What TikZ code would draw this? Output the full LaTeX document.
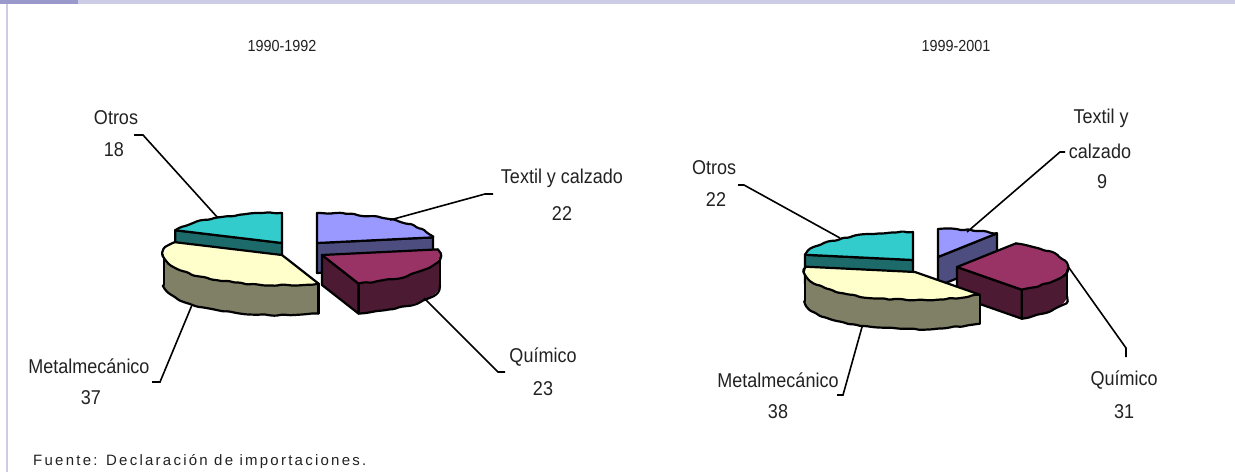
\documentclass[tikz,border=0pt]{standalone}
\usepackage{fontspec}
\setmainfont{Liberation Sans}[FakeStretch=0.9]
\newfontfamily\fuentefont{Liberation Sans}[LetterSpace=15]
\usetikzlibrary{calc,decorations.pathmorphing}
\definecolor{cyantop}{HTML}{33CCCC}
\definecolor{cyanside}{HTML}{1C6A6A}
\definecolor{yeltop}{HTML}{FFFFCC}
\definecolor{yelside}{HTML}{808066}
\definecolor{lavtop}{HTML}{9999FF}
\definecolor{lavside}{HTML}{4D4D80}
\definecolor{martop}{HTML}{993366}
\definecolor{marside}{HTML}{4D1A33}
\definecolor{barlight}{HTML}{CCCCE6}
\definecolor{bardark}{HTML}{9999CC}
\definecolor{txt}{HTML}{222222}
\tikzset{
  piece/.style={draw=black,line width=2.2pt,line join=round,line cap=round},
  wavy/.style={decorate,decoration={random steps,segment length=6pt,amplitude=0.9pt},rounded corners=1.5pt},
  lead/.style={draw=black,line width=1.6pt},
  lbl/.style={inner sep=0pt,text=txt,font=\fontsize{20}{22}\selectfont},
  ttl/.style={inner sep=0pt,text=txt,font=\fontsize{16}{18}\selectfont},
}
\def\RX{118}\def\RY{30}\def\HH{30}
\newcommand\slicetop[4]{%
  \fill[#4] (#1) -- ($(#1)+({\RX*cos(#2)},{\RY*sin(#2)})$)
    arc[start angle=#2,end angle=#3,x radius=\RX,y radius=\RY] -- cycle;
  \draw[piece] ($(#1)+({\RX*cos(#3)},{\RY*sin(#3)})$) -- (#1)
    -- ($(#1)+({\RX*cos(#2)},{\RY*sin(#2)})$);
  \draw[piece,wavy] ($(#1)+({\RX*cos(#2)},{\RY*sin(#2)})$)
    arc[start angle=#2,end angle=#3,x radius=\RX,y radius=\RY];}
\newcommand\rimface[4]{%
  \fill[#4] ($(#1)+({\RX*cos(#2)},{\RY*sin(#2)})$)
    arc[start angle=#2,end angle=#3,x radius=\RX,y radius=\RY] -- ++(0,\HH)
    arc[start angle=#3,end angle=#2,x radius=\RX,y radius=\RY] -- cycle;
  \draw[piece] ($(#1)+({\RX*cos(#2)},{\RY*sin(#2)})$) -- ++(0,\HH);
  \draw[piece] ($(#1)+({\RX*cos(#3)},{\RY*sin(#3)})$) -- ++(0,\HH);
  \draw[piece,wavy] ($(#1)+({\RX*cos(#2)},{\RY*sin(#2)+\HH})$)
    arc[start angle=#2,end angle=#3,x radius=\RX,y radius=\RY];}
\newcommand\radface[3]{%
  \draw[piece,fill=#3] (#1) -- ($(#1)+({\RX*cos(#2)},{\RY*sin(#2)})$) -- ++(0,\HH)
    -- ($(#1)+(0,\HH)$) -- cycle;}
\begin{document}
\begin{tikzpicture}[x=1pt,y=-1pt]
\pgfmathsetseed{7}
\useasboundingbox (0,0) rectangle (1235,472);
\fill[white] (0,0) rectangle (1235,472);
% frame
\fill[barlight] (0,0) rectangle (1235,4);
\fill[bardark] (0,0) rectangle (78,4);
\draw[barlight,line width=2pt] (7,4) -- (7,472);
% titles
\node[ttl] (t1) at (282,46) {1990-1992};
\node[ttl] (t2) at (956,46) {1999-2001};
% ---------- left pie ----------
\coordinate (LO) at (282,243);
\coordinate (LT) at (317,243);
\coordinate (LQ) at (322,255);
\coordinate (LM) at (282,255);
\radface{LO}{205.2}{cyanside}
\slicetop{LO}{205.2}{270}{cyantop}
\radface{LT}{349.2}{lavside}
\slicetop{LT}{270}{349.2}{lavtop}
\rimface{LQ}{360}{432}{marside}
\radface{LQ}{432}{marside}
\slicetop{LQ}{349.2}{432}{martop}
\rimface{LM}{72}{180}{yelside}
\slicetop{LM}{72}{205.2}{yeltop}
% left labels
\node[lbl] (lo1) at (116,118) {Otros};
\node[lbl] (lo2) at (114,150) {18};
\node[lbl] (lt1) at (562,178) {Textil y calzado};
\node[lbl] (lt2) at (562,214) {22};
\node[lbl] (lq1) at (543,357) {Químico};
\node[lbl] (lq2) at (543,389) {23};
\node[lbl] (lm1) at (89,366) {Metalmecánico};
\node[lbl] (lm2) at (91,398) {37};
\coordinate (a1) at (134,135); \coordinate (a2) at (143,135); \coordinate (a3) at (218,218);
\coordinate (b1) at (493,194); \coordinate (b2) at (485,194); \coordinate (b3) at (390,220);
\coordinate (c1) at (424,298); \coordinate (c2) at (498,372); \coordinate (c3) at (505,372);
\coordinate (d1) at (192,305); \coordinate (d2) at (160,382); \coordinate (d3) at (152,382);
\draw[lead] (a1) -- (a2) -- (a3);
\draw[lead] (b1) -- (b2) -- (b3);
\draw[lead] (c1) -- (c2) -- (c3);
\draw[lead] (d1) -- (d2) -- (d3);
% ---------- right pie ----------
\def\RX{110}\def\RY{28}\def\HH{29}
\coordinate (RO) at (913,260);
\coordinate (RT) at (938,257);
\coordinate (RQ) at (957,267);
\coordinate (RM) at (915,272);
\radface{RO}{190.8}{cyanside}
\slicetop{RO}{190.8}{270}{cyantop}
\radface{RT}{302.4}{lavside}
\slicetop{RT}{270}{302.4}{lavtop}
\rimface{RQ}{360}{414}{marside}
\radface{RQ}{414}{marside}
\slicetop{RQ}{302.4}{414}{martop}
\rimface{RM}{54}{180}{yelside}
\slicetop{RM}{54}{190.8}{yeltop}
% right labels
\node[lbl] (ro1) at (714,168) {Otros};
\node[lbl] (ro2) at (716,200) {22};
\node[lbl] (rt1) at (1101,118) {Textil y};
\node[lbl] (rt2) at (1100,151) {calzado};
\node[lbl] (rt3) at (1102,182) {9};
\node[lbl] (rq1) at (1124,380) {Químico};
\node[lbl] (rq2) at (1124,412) {31};
\node[lbl] (rm1) at (778,380) {Metalmecánico};
\node[lbl] (rm2) at (778,412) {38};
\coordinate (e1) at (738,185); \coordinate (e2) at (744,185); \coordinate (e3) at (840,238);
\coordinate (f1) at (1065,152); \coordinate (f2) at (1060,152); \coordinate (f3) at (967,232);
\coordinate (g1) at (1067,265); \coordinate (g2) at (1126,348); \coordinate (g3) at (1126,357);
\coordinate (h1) at (862,327); \coordinate (h2) at (843,395); \coordinate (h3) at (837,395);
\draw[lead] (e1) -- (e2) -- (e3);
\draw[lead] (f1) -- (f2) -- (f3);
\draw[lead] (g1) -- (g2) -- (g3);
\draw[lead] (h1) -- (h2) -- (h3);
% source
\node[inner sep=0pt,anchor=west,text=txt,font=\fuentefont\fontsize{15}{17}\selectfont] (src) at (33,462) {Fuente: Declaración de importaciones.};
\end{tikzpicture}
\end{document}
